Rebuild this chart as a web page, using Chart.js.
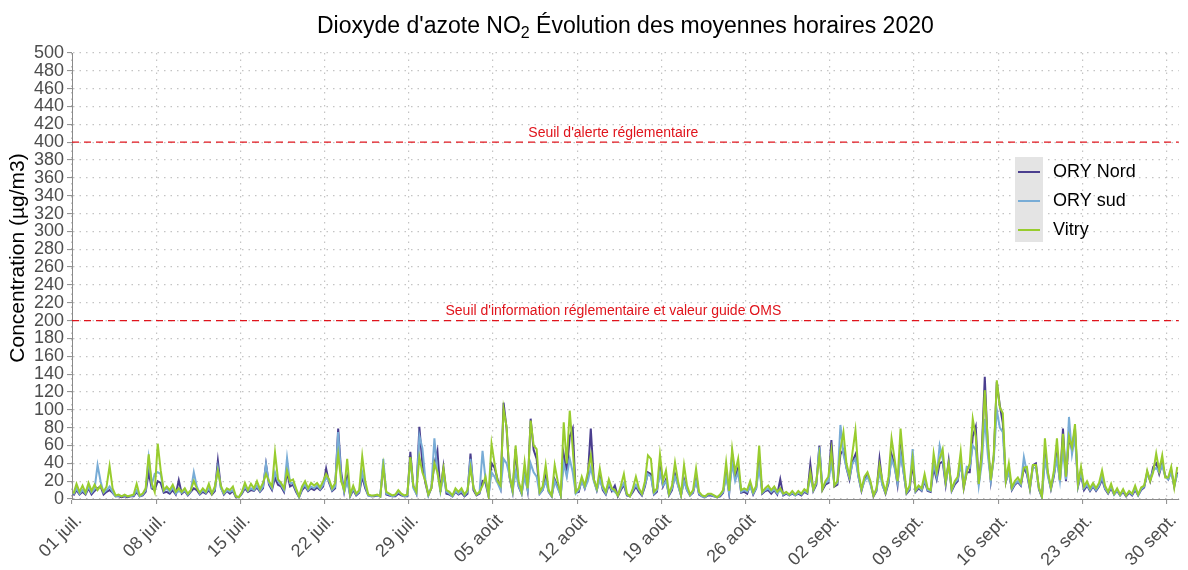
<!DOCTYPE html>
<html><head><meta charset="utf-8">
<script src="https://cdn.jsdelivr.net/npm/chart.js@4"></script>
<style>html,body{margin:0;padding:0;background:#fff}</style>
</head><body>
<canvas id="c" width="1188" height="570"></canvas>
<script>
const titleParts = ["Dioxyde d'azote NO", "2", " Évolution des moyennes horaires 2020"];
const yTitle = "Concentration (µg/m3)";
const tickDays = [0,7,14,21,28,35,42,49,56,63,70,77,84,91];
const tickLabels = ["01 juil.","08 juil.","15 juil.","22 juil.","29 juil.","05 août","12 août","19 août","26 août","02 sept.","09 sept.","16 sept.","23 sept.","30 sept."];
const slotHours = [3,9,15,21];
const seriesNames = ["ORY Nord","ORY sud","Vitry"];
const seriesColors = ["#4a3e8e","#78acd6","#98cc2e"];
const thresholds = [400, 200];
const thresholdLabels = ["Seuil d'alerte réglementaire","Seuil d'information réglementaire et valeur guide OMS"];
const thresholdLabelDay = 45;

// 4 values per day (03h, 09h, 15h, 21h), 01 juil. -> 30 sept.
const oryNord = [
 4,10,5,8, 5,12,5,9, 12,14,5,8, 10,7,3,3, 2,3,2,3, 3,8,3,4, 8,30,12,10,
 20,18,7,8, 6,10,5,21, 6,9,4,8, 12,10,5,8, 6,10,5,9, 43,13,5,9, 6,9,2,2,
 6,12,8,10, 9,13,8,12, 39,16,10,24, 16,14,8,30, 14,16,8,2, 10,14,9,12, 10,13,10,14,
 34,18,9,12, 79,30,8,25, 3,10,4,7, 25,12,4,3, 3,4,3,38, 5,4,3,3, 6,4,3,3,
 53,14,6,81, 40,18,4,12, 40,54,8,36, 6,5,3,8, 5,7,3,6, 51,10,4,6, 20,18,3,40,
 35,22,12,108, 79,24,8,56, 14,6,30,10, 90,55,45,6, 10,25,8,3, 22,14,4,50, 30,70,79,7,
 8,22,12,25, 79,22,10,25, 10,5,16,9, 15,3,10,16, 4,3,8,14, 8,4,14,30, 28,5,8,35,
 14,22,4,10, 28,16,4,22, 10,4,7,22, 5,3,2,4, 4,3,2,3, 7,30,6,50, 25,35,7,8,
 6,16,5,12, 47,6,9,10, 6,10,5,22, 4,6,4,6, 4,6,4,8, 6,39,9,16, 60,10,16,18,
 66,14,16,50, 55,35,22,42, 50,25,9,22, 28,18,3,9, 45,16,6,18, 50,38,16,55, 30,6,10,40,
 8,12,9,20, 9,8,35,22, 40,42,16,43, 9,16,20,42, 12,30,30,70, 81,16,54,137, 60,20,48,131,
 105,85,19,32, 10,16,19,15, 35,28,11,38, 40,11,2,50, 28,11,26,50, 19,79,20,70, 55,79,14,28,
 10,15,9,14, 9,14,22,11, 6,12,5,9, 4,8,3,7, 4,10,4,10, 13,30,20,36, 40,28,40,26,
 22,32,14,30
];
const orySud = [
 5,12,6,10, 6,14,7,11, 38,20,7,10, 14,8,3,4, 3,4,3,3, 4,10,3,5, 10,46,16,28,
 30,28,9,12, 8,13,6,9, 7,10,5,9, 30,14,6,10, 7,12,6,11, 35,12,6,10, 8,10,3,2,
 7,14,9,12, 10,15,9,14, 39,18,12,30, 20,16,10,46, 18,18,10,2, 12,16,10,14, 12,15,11,16,
 24,20,10,14, 75,25,8,20, 4,12,5,8, 30,15,4,3, 4,4,3,45, 6,5,3,4, 8,5,3,4,
 45,12,6,71, 57,22,4,14, 68,30,8,26, 8,6,3,9, 6,9,4,8, 45,12,5,7, 54,22,4,30,
 25,18,10,45, 40,26,8,30, 15,6,25,10, 40,30,25,6, 10,20,8,3, 20,12,4,40, 25,45,30,6,
 10,20,12,20, 35,20,10,22, 12,6,18,10, 8,4,12,18, 5,3,10,16, 10,5,16,28, 25,6,10,30,
 15,20,5,12, 25,15,4,20, 10,4,8,20, 6,3,2,5, 5,3,2,4, 8,25,7,40, 20,30,8,10,
 8,14,6,12, 35,7,10,12, 8,11,6,10, 5,7,4,7, 4,7,5,9, 7,25,10,18, 58,12,18,20,
 40,16,18,83, 50,35,24,40, 45,25,10,20, 25,16,4,10, 30,15,7,20, 45,35,18,50, 30,7,12,56,
 9,14,10,22, 10,9,40,25, 60,45,18,38, 10,18,22,40, 15,36,35,60, 55,15,40,90, 50,20,45,100,
 80,75,20,30, 11,17,20,16, 47,30,12,35, 35,12,2,45, 25,12,28,45, 20,55,22,92, 50,70,15,30,
 12,16,10,15, 10,15,25,12, 7,14,5,10, 4,9,4,8, 5,12,4,11, 14,28,22,32, 35,30,38,25,
 22,30,15,28
];
const vitry = [
 6,17,8,15, 7,18,9,16, 10,15,8,14, 37,12,4,5, 3,5,3,4, 5,17,4,6, 12,50,18,8,
 62,32,10,14, 10,16,8,12, 8,12,6,10, 20,12,7,12, 8,17,6,14, 32,15,7,12, 10,14,3,2,
 8,18,10,17, 12,20,11,18, 28,20,14,52, 22,18,12,32, 20,22,12,3, 14,20,12,18, 15,18,13,20,
 28,22,12,18, 50,20,10,45, 5,15,6,10, 48,20,5,4, 4,5,3,37, 8,6,4,5, 10,6,4,5,
 47,15,8,47, 30,20,5,12, 40,30,10,34, 10,8,4,12, 8,12,5,10, 35,13,5,8, 15,25,4,62,
 40,20,15,101, 81,26,10,60, 20,8,41,12, 88,60,56,8, 14,38,10,4, 38,20,5,86, 40,99,56,8,
 12,25,15,30, 49,22,12,34, 15,8,22,12, 10,4,15,28, 6,3,12,25, 12,6,20,49, 45,8,12,50,
 20,32,6,15, 41,20,5,38, 15,5,10,34, 8,4,3,6, 6,4,2,5, 10,41,9,56, 30,45,10,12,
 10,20,8,15, 60,8,12,15, 10,14,8,12, 6,8,5,9, 5,9,6,11, 8,30,11,20, 49,11,20,25,
 54,15,20,56, 75,40,26,52, 77,30,11,25, 30,20,4,12, 38,20,8,25, 68,45,20,79, 40,8,15,45,
 10,15,12,28, 12,10,51,30, 45,56,20,40, 11,20,25,53, 13,30,40,90, 70,17,50,122, 66,21,50,133,
 103,96,21,40, 13,20,24,18, 35,36,13,38, 38,13,3,68, 30,13,32,68, 21,73,25,70, 58,84,17,36,
 14,20,12,18, 12,18,32,15, 8,17,6,12, 5,11,4,9, 6,15,5,13, 15,32,20,30, 51,32,49,24,
 24,36,13,36
];

const times = vitry.map((_, i) => Math.floor(i / 4) + slotHours[i % 4] / 24);
const seriesValues = [oryNord, orySud, vitry];

const FONT = '"Liberation Sans", Arial, sans-serif';
const GRID = '#c4c4c4';
const AXIS = '#8a8a8a';
const TXT = '#4d4d4d';
const RED = '#e0141c';

const titlePlugin = {
  id: 'titleSub',
  afterDraw(chart) {
    const ctx = chart.ctx, ca = chart.chartArea;
    ctx.save();
    ctx.fillStyle = '#000';
    ctx.textBaseline = 'alphabetic';
    const big = '23px ' + FONT, small = '16px ' + FONT;
    ctx.font = big; const w1 = ctx.measureText(titleParts[0]).width;
    const w3 = ctx.measureText(titleParts[2]).width;
    ctx.font = small; const w2 = ctx.measureText(titleParts[1]).width;
    let x = (ca.left + ca.right) / 2 - (w1 + w2 + w3) / 2;
    const y = 33;
    ctx.textAlign = 'left';
    ctx.font = big; ctx.fillText(titleParts[0], x, y); x += w1;
    ctx.font = small; ctx.fillText(titleParts[1], x, y + 5); x += w2;
    ctx.font = big; ctx.fillText(titleParts[2], x, y);
    ctx.save();
    ctx.translate(18, 258);
    ctx.rotate(-Math.PI / 2);
    ctx.font = '21px ' + FONT; ctx.textAlign = 'center'; ctx.textBaseline = 'middle';
    ctx.fillText(yTitle, 0, 0);
    ctx.restore();
    ctx.restore();
  }
};

const thresholdPlugin = {
  id: 'thresholds',
  afterDatasetsDraw(chart) {
    const ctx = chart.ctx, ca = chart.chartArea;
    const ys = chart.scales.y, xs = chart.scales.x;
    ctx.save();
    thresholds.forEach((t, i) => {
      const py = ys.getPixelForValue(t);
      ctx.strokeStyle = RED; ctx.lineWidth = 1.3;
      ctx.setLineDash([7, 5]);
      ctx.beginPath(); ctx.moveTo(ca.left, py); ctx.lineTo(ca.right, py); ctx.stroke();
      ctx.setLineDash([]);
      ctx.fillStyle = RED; ctx.font = '14px ' + FONT;
      ctx.textAlign = 'center'; ctx.textBaseline = 'middle';
      ctx.fillText(thresholdLabels[i], xs.getPixelForValue(thresholdLabelDay), py - 9);
    });
    ctx.restore();
  }
};

const legendPlugin = {
  id: 'legendBox',
  afterDraw(chart) {
    const ctx = chart.ctx;
    ctx.save();
    ctx.fillStyle = '#e4e4e4';
    ctx.fillRect(1015, 157, 28, 85);
    chart.data.datasets.forEach((ds, i) => {
      const y = 172 + i * 29;
      ctx.strokeStyle = ds.borderColor; ctx.lineWidth = 2;
      ctx.beginPath(); ctx.moveTo(1018, y); ctx.lineTo(1040, y); ctx.stroke();
      ctx.fillStyle = '#000'; ctx.font = '18px ' + FONT;
      ctx.textAlign = 'left'; ctx.textBaseline = 'middle';
      ctx.fillText(ds.label, 1053, y);
    });
    ctx.restore();
  }
};

new Chart(document.getElementById('c'), {
  type: 'line',
  data: {
    datasets: seriesNames.map((name, k) => ({
      label: name,
      data: seriesValues[k].map((v, i) => ({x: times[i], y: v})),
      borderColor: seriesColors[k],
      borderWidth: 2,
      pointRadius: 0,
      tension: 0,
      fill: false,
      order: seriesNames.length - 1 - k
    }))
  },
  options: {
    responsive: false,
    animation: false,
    devicePixelRatio: 1,
    layout: {padding: {top: 53, left: 0, right: 0, bottom: 0}},
    plugins: {legend: {display: false}, tooltip: {enabled: false}, title: {display: false}},
    scales: {
      x: {
        type: 'linear', min: 0, max: 92,
        afterBuildTicks: s => { s.ticks = tickDays.map(v => ({value: v})); },
        afterFit: s => { s.height = 71; },
        ticks: {
          autoSkip: false, maxRotation: 45, minRotation: 45, padding: 6, labelOffset: 7,
          color: TXT, font: {size: 18, family: FONT},
          callback: v => tickLabels[tickDays.indexOf(v)]
        },
        grid: {color: GRID, lineWidth: 1.2, tickLength: 5, tickColor: AXIS, tickWidth: 1, tickBorderDash: []},
        border: {display: true, color: AXIS, width: 1, dash: [1.5, 5]}
      },
      y: {
        min: 0, max: 500,
        afterFit: s => { s.width = 72; },
        ticks: {stepSize: 20, autoSkip: false, padding: 3, color: TXT, font: {size: 18, family: FONT}},
        grid: {color: GRID, lineWidth: 1.2, tickLength: 5, tickColor: AXIS, tickWidth: 1, tickBorderDash: []},
        border: {display: true, color: AXIS, width: 1, dash: [1.5, 5]},
        title: {display: false}
      }
    }
  },
  plugins: [thresholdPlugin, titlePlugin, legendPlugin]
});
</script>
</body></html>
